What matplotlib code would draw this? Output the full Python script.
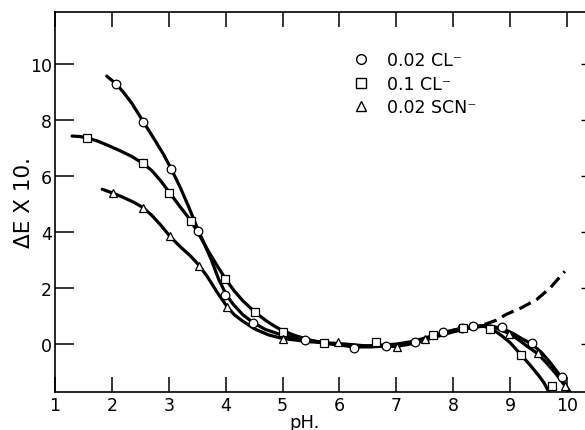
import matplotlib
matplotlib.use("Agg")
import matplotlib.pyplot as plt
from matplotlib.lines import Line2D

# -----------------------------
# Data
# -----------------------------

# 0.02 CL- (circles)
cl02_ph = [2.07, 2.55, 3.04, 3.52, 3.99, 4.48, 5.39, 6.26, 6.82, 7.33, 7.82, 8.15, 8.35, 8.86, 9.38, 9.91]
cl02_de = [9.29, 7.93, 6.27, 4.03, 1.75, 0.75, 0.16, -0.14, -0.06, 0.07, 0.42, 0.58, 0.63, 0.60, 0.05, -1.18]

# 0.1 CL- (squares)
cl1_ph = [1.57, 2.55, 3.00, 3.39, 3.99, 4.51, 5.00, 5.72, 6.64, 7.64, 8.17, 8.65, 9.19, 9.74]
cl1_de = [7.35, 6.45, 5.40, 4.40, 2.32, 1.13, 0.44, 0.05, 0.06, 0.33, 0.56, 0.53, -0.40, -1.50]

# 0.02 SCN- (triangles)
scn_ph = [2.02, 2.55, 3.02, 3.53, 4.02, 5.00, 5.98, 7.01, 7.50, 8.98, 9.49, 9.96]
scn_de = [5.39, 4.85, 3.85, 2.80, 1.32, 0.18, 0.08, -0.10, 0.18, 0.36, -0.32, -1.50]

# hand-drawn smooth curves
cl02_curve_ph = [1.91, 2.07, 2.20, 2.35, 2.55, 2.75, 2.90, 3.04, 3.20, 3.35, 3.50, 3.62, 3.75, 3.88,
                 4.00, 4.12, 4.30, 4.48, 4.70, 5.00, 5.39, 5.80, 6.26, 6.55, 6.82, 7.10, 7.33,
                 7.60, 7.82, 8.00, 8.15, 8.35, 8.50, 8.65, 8.86, 9.05, 9.20, 9.38, 9.55, 9.70,
                 9.85, 9.95, 10.05]
cl02_curve_de = [9.57, 9.30, 9.00, 8.60, 7.95, 7.30, 6.80, 6.27, 5.60, 4.90, 4.15, 3.60, 3.00, 2.30,
                 1.80, 1.45, 1.05, 0.77, 0.52, 0.32, 0.16, 0.02, -0.10, -0.10, -0.07, 0.00, 0.08,
                 0.25, 0.40, 0.50, 0.56, 0.63, 0.66, 0.65, 0.56, 0.38, 0.20, 0.00, -0.30, -0.65,
                 -1.05, -1.38, -1.71]

cl1_curve_ph = [1.30, 1.45, 1.57, 1.75, 1.95, 2.15, 2.35, 2.55, 2.70, 2.85, 3.00, 3.20, 3.39, 3.55,
                3.70, 3.85, 3.99, 4.15, 4.30, 4.51, 4.70, 4.85, 5.00, 5.20, 5.45, 5.71, 6.00,
                6.30, 6.64, 7.00, 7.30, 7.64, 7.90, 8.17, 8.40, 8.55, 8.70, 8.85, 9.00, 9.19,
                9.35, 9.50, 9.60, 9.68]
cl1_curve_de = [7.43, 7.41, 7.36, 7.25, 7.08, 6.90, 6.70, 6.45, 6.20, 5.85, 5.45, 4.90, 4.40, 3.85,
                3.30, 2.80, 2.35, 1.90, 1.55, 1.15, 0.85, 0.65, 0.48, 0.32, 0.16, 0.05, -0.03,
                -0.07, -0.05, 0.00, 0.10, 0.30, 0.45, 0.56, 0.63, 0.63, 0.52, 0.30, 0.05, -0.38,
                -0.75, -1.12, -1.40, -1.71]

scn_curve_ph = [1.83, 2.02, 2.20, 2.40, 2.55, 2.70, 2.85, 3.02, 3.20, 3.38, 3.53, 3.68, 3.85, 4.02,
                4.15, 4.30, 4.50, 4.75, 5.00, 5.50, 6.00, 6.50, 7.00, 7.30, 7.60, 8.00, 8.30,
                8.55, 8.75, 8.98, 9.15, 9.30, 9.49, 9.65, 9.80, 9.96, 10.05]
scn_curve_de = [5.53, 5.39, 5.24, 5.05, 4.87, 4.60, 4.27, 3.85, 3.48, 3.15, 2.82, 2.40, 1.85, 1.35,
                1.05, 0.82, 0.55, 0.33, 0.20, 0.08, 0.02, -0.07, -0.08, 0.02, 0.20, 0.44, 0.58,
                0.65, 0.58, 0.38, 0.15, -0.08, -0.35, -0.70, -1.05, -1.48, -1.71]

# dashed extrapolation
dash_ph = [8.55, 8.75, 8.94, 9.20, 9.47, 9.70, 9.96]
dash_de = [0.70, 0.85, 1.07, 1.30, 1.60, 2.00, 2.60]

legend_labels = ["0.02 CL\u207b", "0.1 CL\u207b", "0.02 SCN\u207b"]

# -----------------------------
# Plot
# -----------------------------

plt.rcParams['font.family'] = ['DejaVu Sans']

fig = plt.figure(figsize=(5.85, 4.31), dpi=100)
ax = fig.add_axes([55 / 585, 38 / 431, 532 / 585, 380 / 431])

lw = 2.3
for xs, ys in [(cl02_curve_ph, cl02_curve_de), (cl1_curve_ph, cl1_curve_de), (scn_curve_ph, scn_curve_de)]:
    ax.plot(xs, ys, color='black', lw=lw, solid_capstyle='round', solid_joinstyle='round', zorder=2)
ax.plot(dash_ph, dash_de, color='black', lw=lw, linestyle=(0, (4, 2)), zorder=2)

ax.plot(cl02_ph, cl02_de, linestyle='none', marker='o', ms=6.2, mfc='white', mec='black', mew=0.9, zorder=3)
ax.plot(cl1_ph, cl1_de, linestyle='none', marker='s', ms=5.8, mfc='white', mec='black', mew=0.9, zorder=3)
ax.plot(scn_ph, scn_de, linestyle='none', marker='^', ms=5.2, mfc='white', mec='black', mew=0.9, zorder=3)

ax.set_xlim(1.0, 10.35)
ax.set_ylim(-1.71, 11.86)

ax.set_xticks(range(1, 11))
ax.set_yticks(range(0, 11, 2))
ax.tick_params(axis='both', direction='in', length=11, width=1.1, labelsize=12.5,
               top=True, right=False, pad=3)
ax.tick_params(axis='y', length=14, pad=2)

for side in ['left', 'bottom', 'top']:
    ax.spines[side].set_linewidth(1.2)
ax.spines['right'].set_visible(False)

# faint short ticks along the (cropped) right edge
ax_r = ax.twinx()
ax_r.set_ylim(ax.get_ylim())
ax_r.set_yticks(range(0, 11, 2))
ax_r.tick_params(axis='y', direction='in', length=4, width=1.0, labelright=False)
for side in ['left', 'right', 'top', 'bottom']:
    ax_r.spines[side].set_visible(False)

ax.text(0.47, -0.078, "pH.", transform=ax.transAxes, ha='center', va='center', fontsize=13)
ax.text(-0.058, 0.50, "\u0394E X 10.", transform=ax.transAxes, ha='center', va='center',
        rotation=90, fontsize=15.5)

handles = [
    Line2D([], [], linestyle='none', marker='o', ms=7, mfc='white', mec='black', mew=1.0),
    Line2D([], [], linestyle='none', marker='s', ms=7, mfc='white', mec='black', mew=1.0),
    Line2D([], [], linestyle='none', marker='^', ms=7, mfc='white', mec='black', mew=1.0),
]
ax.legend(handles, legend_labels, loc='upper left', bbox_to_anchor=(0.545, 0.915),
          frameon=False, handlelength=1.0, handletextpad=1.0, labelspacing=0.32,
          fontsize=12.5, borderaxespad=0)

fig.savefig("out.png", dpi=100)
